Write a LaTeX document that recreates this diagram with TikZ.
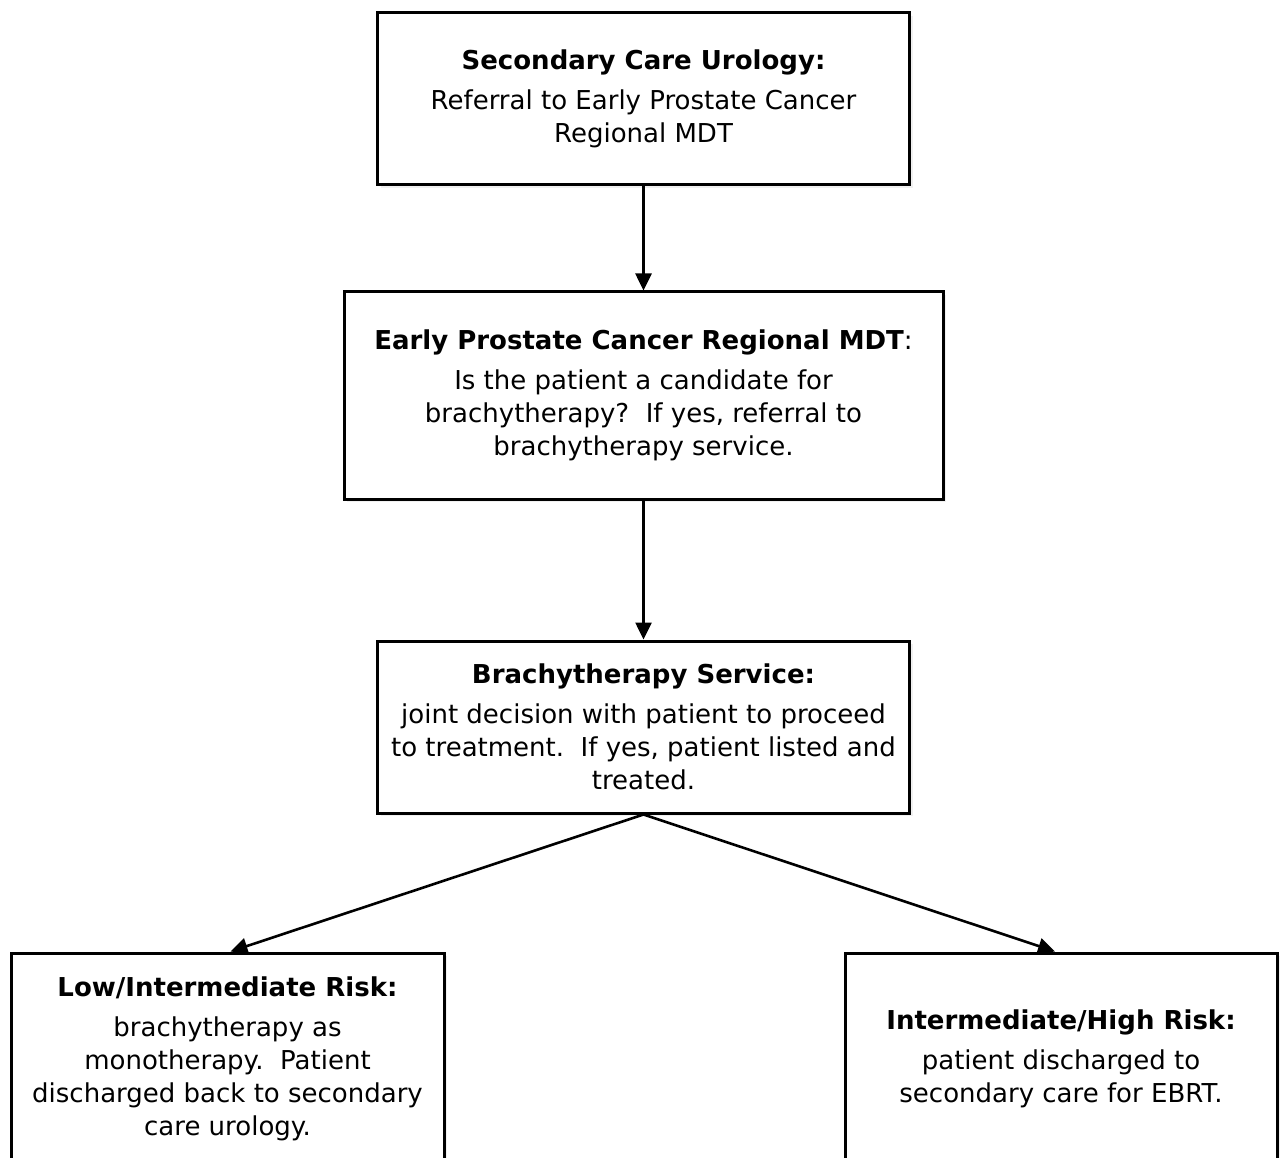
\documentclass[tikz,border=0pt]{standalone}
\usepackage{fontspec}
\setmainfont{DejaVu Sans}
\usetikzlibrary{arrows.meta,shadows}
\begin{document}
\begin{tikzpicture}[x=1pt,y=-1pt,
  box/.style={draw=black, line width=3pt, fill=white, align=center, inner sep=0pt,
    font=\fontsize{26}{33}\selectfont,
    drop shadow={shadow xshift=3pt, shadow yshift=-3pt, opacity=0.12, fill=gray}},
  arr/.style={line width=2.6pt, -{Triangle[length=17pt,width=16pt]}}]
\useasboundingbox (0,0) rectangle (1283,1158);
\clip (0,0) rectangle (1283,1158);
\node[box, minimum width=532pt, minimum height=172pt] (b1) at (643.5,99)
  {\textbf{Secondary Care Urology:}\\[7pt]Referral to Early Prostate Cancer\\Regional MDT};
\node[box, minimum width=599pt, minimum height=207pt] (b2) at (643.5,395.5)
  {\textbf{Early Prostate Cancer Regional MDT}:\\[7pt]Is the patient a candidate for\\brachytherapy?\ \ If yes, referral to\\brachytherapy service.};
\node[box, minimum width=532pt, minimum height=172pt] (b3) at (643.5,727)
  {\textbf{Brachytherapy Service:}\\[7pt]joint decision with patient to proceed\\to treatment.\ \ If yes, patient listed and\\treated.};
\node[box, minimum width=433pt, minimum height=212pt] (b4) at (227.5,1059)
  {\textbf{Low/Intermediate Risk:}\\[7pt]brachytherapy as\\monotherapy.\ \ Patient\\discharged back to secondary\\care urology.};
\node[box, minimum width=432pt, minimum height=212pt] (b5) at (1061,1059)
  {\textbf{Intermediate/High Risk:}\\[7pt]patient discharged to\\secondary care for EBRT.};
\draw[arr] (b1.south) -- (b2.north);
\draw[arr] (b2.south) -- (b3.north);
\draw[arr] (b3.south) -- ([xshift=3pt]b4.north);
\draw[arr] (b3.south) -- ([xshift=-6pt]b5.north);
\end{tikzpicture}
\end{document}
